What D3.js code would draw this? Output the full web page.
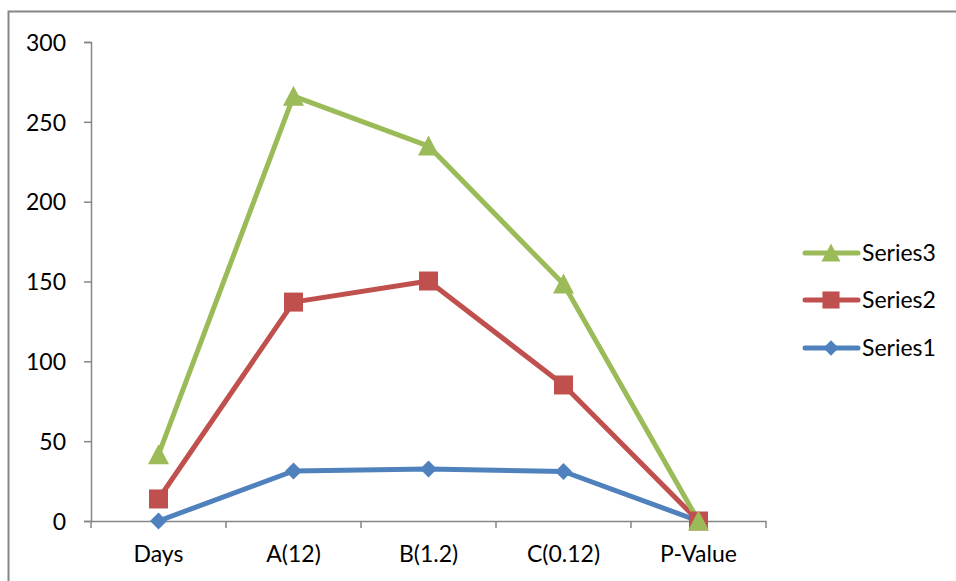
<!DOCTYPE html>
<html><head><meta charset="utf-8">
<script src="https://cdn.jsdelivr.net/npm/d3@7"></script>
<style>body{margin:0;background:#fff}svg{display:block}text{font-family:Lato,"Open Sans",sans-serif;fill:#000}</style>
</head><body>
<svg id="c" width="956" height="581"></svg>
<script>
const categories = ["Days","A(12)","B(1.2)","C(0.12)","P-Value"];
const series1 = [0, 31.3, 32.6, 31.0, 0];
const series2 = [13.8, 137.1, 150.3, 85.2, 0];
const series3 = [41.5, 266.1, 234.8, 148.4, 0];
const yTicks = [0,50,100,150,200,250,300];
const seriesNames = ["Series1","Series2","Series3"];
const colors = ["#4F81BD","#C0504D","#9BBB59"];

const FS = 23;
const svg = d3.select("#c");
// border
svg.append("path").attr("d","M8.5,581 V11.5 H956").attr("fill","none").attr("stroke","#868686").attr("stroke-width",2);

const x = d3.scaleBand().domain(categories).range([91,766]);
const y = d3.scaleLinear().domain([0,300]).range([521,42]);

const gy = svg.append("g").attr("transform","translate(91,0)")
  .call(d3.axisLeft(y).tickValues(yTicks).tickSize(7).tickPadding(18).tickFormat(d3.format("d")));
gy.attr("font-size",FS).attr("font-family","Lato");
gy.select(".domain").attr("stroke","#868686").attr("stroke-width",1.5);
gy.selectAll(".tick line").attr("stroke","#868686").attr("stroke-width",1.5);
gy.selectAll("text").attr("dy","0.36em");

const gx = svg.append("g").attr("transform","translate(0,521)")
  .call(d3.axisBottom(x).tickSize(0).tickPadding(22));
gx.attr("font-size",FS).attr("font-family","Lato");
gx.select(".domain").attr("stroke","#868686").attr("stroke-width",1.5);
gx.selectAll("text").attr("y",41).attr("dy","0");
// category boundary ticks
const bounds = categories.map(c=>x(c)).concat([x.range()[1]]);
gx.selectAll(".bt").data(bounds).enter().append("line")
  .attr("x1",d=>d).attr("x2",d=>d).attr("y1",0).attr("y2",7)
  .attr("stroke","#868686").attr("stroke-width",1.5);

const data = [series1, series2, series3];
const cx = c => x(c) + x.bandwidth()/2;
const line = d3.line().x((d,i)=>cx(categories[i])).y(d=>y(d));

const markerPath = [
  "M0,-8.5L8.5,0L0,8.5L-8.5,0Z",
  "M-9.5,-9.5H9.5V9.5H-9.5Z",
  "M0,-10.5L10.5,9.5L-10.5,9.5Z"
];

data.forEach((vals,k)=>{
  svg.append("path").datum(vals).attr("d",line).attr("fill","none")
    .attr("stroke",colors[k]).attr("stroke-width",5).attr("stroke-linejoin","round");
});
data.forEach((vals,k)=>{
  svg.selectAll(".m"+k).data(vals).enter().append("path")
    .attr("d", markerPath[k])
    .attr("transform",(d,i)=>`translate(${cx(categories[i])},${y(d)})`)
    .attr("fill",colors[k]);
});

// legend
const order = [2,1,0];
const ly = [253,300,348];
order.forEach((k,j)=>{
  const g = svg.append("g").attr("transform",`translate(0,${ly[j]})`);
  g.append("line").attr("x1",805).attr("x2",858).attr("y1",0).attr("y2",0)
    .attr("stroke",colors[k]).attr("stroke-width",5).attr("stroke-linecap","round");
  g.append("path").attr("d",markerPath[k])
    .attr("transform",`translate(831,0) scale(0.9)`).attr("fill",colors[k]);
  g.append("text").attr("x",862).attr("y",0).attr("dy","0.36em").attr("font-size",FS).text(seriesNames[k]);
});
</script>
</body></html>
